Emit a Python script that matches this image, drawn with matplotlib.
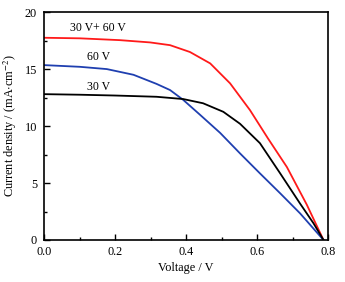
import matplotlib
matplotlib.use("Agg")
import matplotlib.pyplot as plt
from matplotlib.ticker import MultipleLocator, FormatStrFormatter

plt.rcParams['font.family'] = ['Liberation Serif', 'DejaVu Serif']
plt.rcParams['mathtext.fontset'] = 'stix'

v_red = [0.0, 0.101, 0.214, 0.299, 0.355, 0.411, 0.468, 0.524, 0.580, 0.631, 0.684, 0.740, 0.787]
j_red = [17.75, 17.7, 17.54, 17.34, 17.1, 16.5, 15.5, 13.75, 11.4, 8.9, 6.4, 3.1, 0.0]

v_blue = [0.0, 0.101, 0.177, 0.252, 0.317, 0.355, 0.392, 0.439, 0.496, 0.552, 0.608, 0.665, 0.721, 0.787]
j_blue = [15.35, 15.2, 15.0, 14.5, 13.7, 13.16, 12.3, 11.0, 9.4, 7.6, 5.85, 4.1, 2.34, 0.0]

v_black = [0.0, 0.101, 0.200, 0.317, 0.392, 0.448, 0.505, 0.552, 0.608, 0.665, 0.721, 0.759, 0.787]
j_black = [12.8, 12.75, 12.68, 12.57, 12.37, 12.0, 11.25, 10.2, 8.5, 5.85, 3.2, 1.46, 0.0]

labels = ["30 V+ 60 V", "60 V", "30 V"]

fig = plt.figure(figsize=(3.45, 2.82), dpi=100)
ax = fig.add_axes([0.1275, 0.149, 0.8235, 0.808])

ax.plot(v_red, j_red, color='#ff1a1a', lw=1.3)
ax.plot(v_blue, j_blue, color='#1f3fb0', lw=1.3)
ax.plot(v_black, j_black, color='black', lw=1.3)

ax.text(0.153, 18.6, labels[0], ha='center', va='center', fontsize=8.5)
ax.text(0.155, 16.1, labels[1], ha='center', va='center', fontsize=8.5)
ax.text(0.155, 13.45, labels[2], ha='center', va='center', fontsize=8.5)

ax.set_xlim(0, 0.8)
ax.set_ylim(0, 20)
ax.xaxis.set_major_locator(MultipleLocator(0.2))
ax.xaxis.set_minor_locator(MultipleLocator(0.1))
ax.yaxis.set_major_locator(MultipleLocator(5))
ax.yaxis.set_minor_locator(MultipleLocator(2.5))
ax.xaxis.set_major_formatter(FormatStrFormatter('%.1f'))
ax.tick_params(which='both', direction='in', labelsize=8.8, width=1.0)
ax.tick_params(which='major', length=4)
ax.tick_params(which='minor', length=2.5)
ax.tick_params(axis='x', which='major', pad=4.5)
ax.tick_params(axis='y', which='major', pad=5)
for s in ax.spines.values():
    s.set_linewidth(1.2)

ax.set_xlabel('Voltage / V', fontsize=8.8, labelpad=3)
ax.set_ylabel('Current density / (mA$\\cdot$cm$^{-2}$)', fontsize=8.8, labelpad=4)

fig.savefig('out.png', dpi=100)
